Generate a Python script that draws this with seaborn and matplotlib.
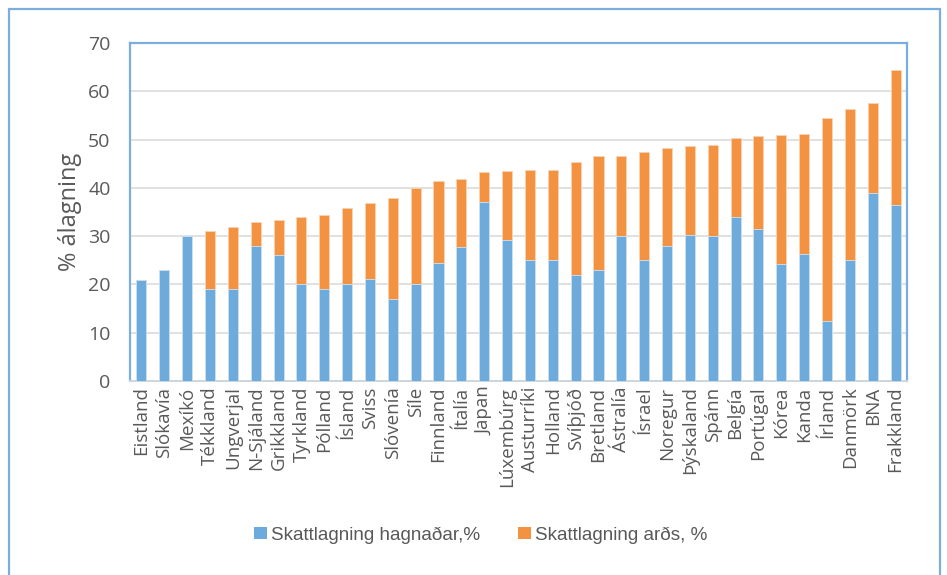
import numpy as np
import pandas as pd
import matplotlib
matplotlib.use("Agg")
import matplotlib.pyplot as plt
from matplotlib.patches import Patch, Rectangle
import seaborn as sns

countries = [
    "Eistland", "Slókavía", "Mexíkó", "Tékkland", "Ungverjal", "N-Sjáland",
    "Grikkland", "Tyrkland", "Pólland", "Ísland", "Sviss", "Slóvenía", "Síle",
    "Finnland", "Ítalía", "Japan", "Lúxembúrg", "Austurríki", "Holland",
    "Svíþjóð", "Bretland", "Ástralía", "Ísrael", "Noregur", "Þýskaland",
    "Spánn", "Belgía", "Portúgal", "Kórea", "Kanda", "Írland", "Danmörk",
    "BNA", "Frakkland",
]
profit_tax = [
    21.0, 23.0, 30.0, 19.0, 19.0, 28.0, 26.0, 20.0, 19.0, 20.0, 21.2, 17.0,
    20.0, 24.5, 27.7, 37.1, 29.2, 25.0, 25.0, 22.0, 23.0, 30.0, 25.0, 28.0,
    30.2, 30.0, 34.0, 31.5, 24.2, 26.3, 12.5, 25.0, 39.0, 36.4,
]
dividend_tax = [
    0.0, 0.0, 0.0, 12.1, 12.9, 5.0, 7.4, 14.0, 15.4, 15.9, 15.7, 20.9,
    20.0, 17.0, 14.2, 6.2, 14.3, 18.8, 18.8, 23.4, 23.5, 16.6, 22.5, 20.2,
    18.4, 18.8, 16.4, 19.2, 26.7, 24.8, 41.9, 31.4, 18.5, 28.0,
]
y_ticks = [0, 10, 20, 30, 40, 50, 60, 70]
legend_labels = ["Skattlagning hagnaðar,%", "Skattlagning arðs, %"]
y_label = "% álagning"

BLUE = "#6EABDD"
ORANGE = "#F39241"
TEXT = "#595959"
FRAME = "#79AEDF"

df = pd.DataFrame({
    "land": countries,
    "hagnadur": profit_tax,
    "ardur": dividend_tax,
})
df["samtals"] = df["hagnadur"] + df["ardur"]

sns.set_theme(style="white")
plt.rcParams["font.family"] = ["Open Sans", "DejaVu Sans"]

fig = plt.figure(figsize=(9.47, 5.75), dpi=100)
ax = fig.add_axes([130 / 947, 1 - 381 / 575, (907 - 130) / 947, (381 - 43) / 575])

# stacked bars: total (orange) behind, profit tax (blue) in front
sns.barplot(data=df, x="land", y="samtals", color=ORANGE, saturation=1,
            width=0.44, edgecolor="#FBD3B3", linewidth=0.6, ax=ax, zorder=3)
sns.barplot(data=df, x="land", y="hagnadur", color=BLUE, saturation=1,
            width=0.44, edgecolor="#CFE4F4", linewidth=0.6, ax=ax, zorder=4)

ax.set_ylim(0, 70)
ax.set_xlim(-0.5, len(countries) - 0.5)
ax.set_yticks(y_ticks)
ax.set_yticklabels([str(t) for t in y_ticks])
ax.yaxis.grid(True, color="#DCDCDC", linewidth=1.2, zorder=0)
ax.xaxis.grid(False)
ax.set_axisbelow(True)
ax.tick_params(axis="y", length=0, pad=14, labelsize=14, labelcolor=TEXT)
ax.tick_params(axis="x", length=0, pad=4, labelsize=13.5, labelcolor=TEXT,
               rotation=90)
ax.set_xlabel("")
ax.set_ylabel(y_label, fontsize=17, color=TEXT)
ax.yaxis.set_label_coords(-0.062, 0.5)

for side in ["left", "top", "right"]:
    ax.spines[side].set_color(FRAME)
    ax.spines[side].set_linewidth(1.6)
ax.spines["bottom"].set_color("#CDD5DD")
ax.spines["bottom"].set_linewidth(1.4)

# outer chart frame
fig.patches.append(Rectangle((9 / 947, -0.02), (940 - 9) / 947, 1.02 - 9 / 575,
                             transform=fig.transFigure, fill=False,
                             edgecolor=FRAME, linewidth=1.6))

handles = [Patch(facecolor=BLUE, edgecolor="none"),
           Patch(facecolor=ORANGE, edgecolor="none")]
fig.legend(handles, legend_labels, loc="center", ncol=2,
           bbox_to_anchor=(481 / 947, 1 - 535 / 575), frameon=False,
           handlelength=0.65, handleheight=0.65, handletextpad=0.25,
           columnspacing=2.0,
           prop={"family": ["Liberation Sans", "DejaVu Sans"], "size": 13.6},
           labelcolor=TEXT)

fig.savefig("out.png", dpi=100)
